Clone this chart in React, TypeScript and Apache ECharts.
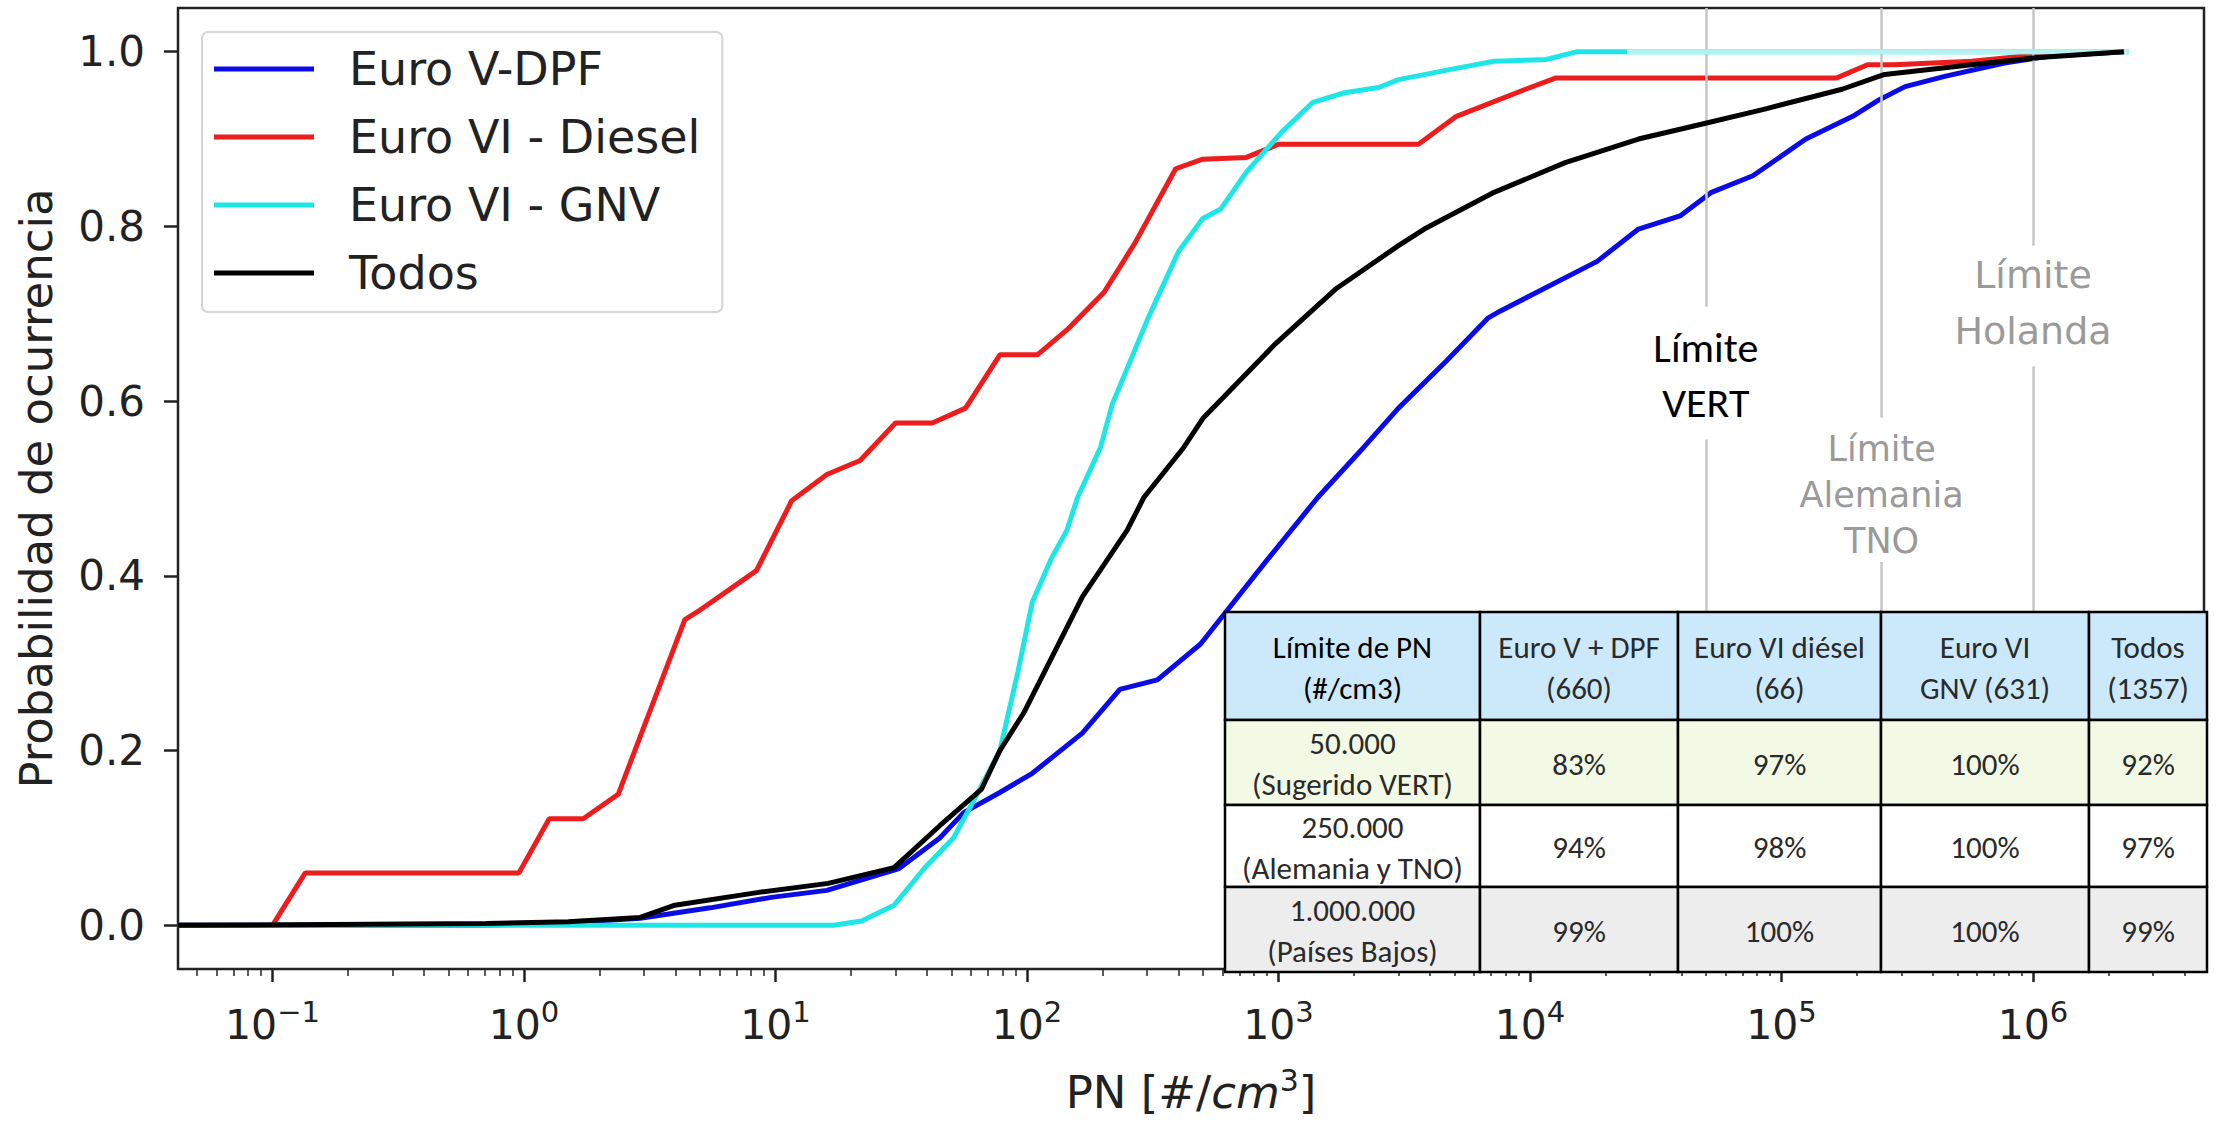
import React, { useEffect, useRef } from 'react';
import * as echarts from 'echarts';

// ---------------- data ----------------
const seriesNames = ['Euro V-DPF', 'Euro VI - Diesel', 'Euro VI - GNV', 'Todos'];
const seriesColors = ['#0b0be8', '#ee1d1d', '#1fe6e6', '#000000'];
const gnvFadedColor = '#b4f2f2';

// [PN (#/cm3), probability]
const euroVDpf: [number, number][] = [
  [0.042, 0], [0.7, 0], [1.5, 0.003], [2.9, 0.008], [5.5, 0.02], [9.6, 0.032], [16, 0.04],
  [31, 0.065], [45, 0.1], [56, 0.129], [78, 0.152], [105, 0.174], [166, 0.22], [234, 0.27],
  [330, 0.281], [490, 0.322], [900, 0.418], [1435, 0.49], [2180, 0.547], [3000, 0.592],
  [4650, 0.646], [6800, 0.695], [7600, 0.703], [18500, 0.76], [27000, 0.797], [39500, 0.812],
  [52700, 0.839], [77000, 0.858], [125000, 0.9], [192000, 0.926], [245000, 0.945],
  [310000, 0.96], [450000, 0.972], [770000, 0.987], [1170000, 0.995], [2300000, 1.0],
];

const euroVIDiesel: [number, number][] = [
  [0.042, 0], [0.1, 0], [0.135, 0.06], [0.955, 0.06], [1.26, 0.122], [1.72, 0.122],
  [2.37, 0.15], [4.36, 0.35], [4.9, 0.359], [8.4, 0.406], [11.6, 0.486], [16, 0.516],
  [21.7, 0.532], [30, 0.575], [42, 0.575], [57, 0.592], [78, 0.653], [110, 0.653],
  [146, 0.683], [203, 0.725], [270, 0.782], [390, 0.866], [500, 0.877], [745, 0.879],
  [1000, 0.894], [3600, 0.894], [5100, 0.926], [9600, 0.957], [12700, 0.97], [166000, 0.97],
  [220000, 0.985], [280000, 0.985], [570000, 0.989], [1000000, 0.996], [2300000, 1.0],
];

const euroVIGnv: [number, number][] = [
  [0.042, 0], [17, 0], [22, 0.005], [29.6, 0.023], [39, 0.065], [51, 0.1], [62, 0.145],
  [78, 0.2], [92, 0.29], [105, 0.37], [125, 0.42], [144, 0.452], [159, 0.49], [196, 0.547],
  [218, 0.596], [303, 0.695], [400, 0.771], [500, 0.809], [590, 0.82], [745, 0.862],
  [1030, 0.908], [1370, 0.942], [1830, 0.953], [2500, 0.959], [3000, 0.968], [4900, 0.98],
  [7200, 0.989], [11600, 0.991], [15400, 1.0], [2400000, 1.0],
];
// the GNV plateau at 1.0 is drawn in a lighter cyan in the source picture
const euroVIGnvFadedPlateau: [number, number][] = [[24300, 1.0], [2400000, 1.0]];

const todos: [number, number][] = [
  [0.042, 0], [0.71, 0.002], [1.5, 0.004], [2.9, 0.009], [3.98, 0.023], [8.7, 0.038],
  [16.2, 0.048], [29.6, 0.066], [45, 0.114], [66, 0.156], [78, 0.2], [97, 0.243],
  [166, 0.376], [250, 0.452], [292, 0.49], [420, 0.547], [500, 0.58], [960, 0.664],
  [1700, 0.729], [3000, 0.778], [3800, 0.797], [7200, 0.839], [13800, 0.873], [27000, 0.9],
  [48000, 0.917], [85000, 0.934], [174000, 0.957], [257000, 0.974], [570000, 0.985],
  [1020000, 0.993], [2300000, 1.0],
];

const seriesData = [euroVDpf, euroVIDiesel, euroVIGnv, todos];

const xTickExponents = [-1, 0, 1, 2, 3, 4, 5, 6];
const yTicks = [0, 0.2, 0.4, 0.6, 0.8, 1.0];

const limitValues = [5e4, 2.5e5, 1e6];
const limitLabels = ['Límite\nVERT', 'Límite\nAlemania\nTNO', 'Límite\nHolanda'];
const limitLabelY = [0.63, 0.493, 0.712];
const limitGaps: [number, number][] = [[0.556, 0.708], [0.416, 0.581], [0.64, 0.778]];

const tableHeader = ['Límite de PN\n(#/cm3)', 'Euro V + DPF\n(660)', 'Euro VI diésel\n(66)', 'Euro VI\nGNV (631)', 'Todos\n(1357)'];
const tableRows = [
  ['50.000\n(Sugerido VERT)', '83%', '97%', '100%', '92%'],
  ['250.000\n(Alemania y TNO)', '94%', '98%', '100%', '97%'],
  ['1.000.000\n(Países Bajos)', '99%', '100%', '100%', '99%'],
];

// ---------------- layout ----------------
const X_MIN = -1.3757;
const X_MAX = 6.68;
const Y_MIN = -0.05;
const Y_MAX = 1.05;
const MPL = "'DejaVu Sans', sans-serif";
const CAL = "Carlito, Lato, 'Open Sans', sans-serif";

const minorTicks: number[] = [];
for (let n = -2; n <= 6; n++) {
  for (let k = 2; k <= 9; k++) {
    const v = Math.log10(k * Math.pow(10, n));
    if (v > X_MIN && v < X_MAX) minorTicks.push(v);
  }
}

const colX = [1225, 1480, 1678, 1881, 2089, 2207];
const rowY = [612, 720, 805, 887, 972];
const rowColors = ['#cbe9fb', '#f2f9e4', '#ffffff', '#ededed'];

function buildTable() {
  const els: any[] = [];
  const rows = [tableHeader, ...tableRows];
  rows.forEach((row, r) => {
    row.forEach((txt, c) => {
      const x = colX[c];
      const y = rowY[r];
      const w = colX[c + 1] - x;
      const h = rowY[r + 1] - y;
      els.push({
        type: 'rect',
        z: 100,
        shape: { x, y, width: w, height: h },
        style: { fill: rowColors[r], stroke: '#000', lineWidth: 2.5 },
      });
      const strong = r === 0 && c === 0;
      els.push({
        type: 'text',
        z: 101,
        style: {
          text: txt,
          x: x + w / 2,
          y: y + h / 2 + 1,
          align: 'center',
          verticalAlign: 'middle',
          textAlign: 'center',
          textVerticalAlign: 'middle',
          fontSize: 31,
          lineHeight: 41,
          fontFamily: CAL,
          fontWeight: 'normal',
          fill: strong ? '#000' : '#2a2a2a',
        },
      });
    });
  });
  return els;
}

const toXY = (arr: [number, number][]) => arr.map(([pn, p]) => [Math.log10(pn), p]);

export default function App() {
  const ref = useRef<HTMLDivElement>(null);

  useEffect(() => {
    document.body.style.margin = '0';
    if (!ref.current) return;
    const chart = echarts.init(ref.current, null, { renderer: 'svg' });

    const lineSeries: any[] = seriesNames.map((name, i) => ({
      name,
      type: 'line',
      xAxisIndex: 0,
      yAxisIndex: 0,
      data: toXY(seriesData[i]),
      showSymbol: false,
      symbol: 'none',
      z: 3 + i,
      lineStyle: { color: seriesColors[i], width: 5 },
      itemStyle: { color: seriesColors[i] },
    }));

    const fadedSeries = {
      name: 'Euro VI - GNV (meseta)',
      type: 'line',
      xAxisIndex: 0,
      yAxisIndex: 0,
      data: toXY(euroVIGnvFadedPlateau),
      showSymbol: false,
      symbol: 'none',
      silent: true,
      z: 5.5,
      lineStyle: { color: gnvFadedColor, width: 5 },
      itemStyle: { color: gnvFadedColor },
    };

    const markLineData: any[] = [];
    limitValues.forEach((v, i) => {
      const x = Math.log10(v);
      markLineData.push([{ coord: [x, Y_MAX] }, { coord: [x, limitGaps[i][1]] }]);
      markLineData.push([{ coord: [x, limitGaps[i][0]] }, { coord: [x, Y_MIN] }]);
    });

    const labelStyles = [
      { color: '#000', fontSize: 42, lineHeight: 55, fontFamily: CAL },
      { color: '#9a9a9a', fontSize: 35, lineHeight: 46, fontFamily: MPL },
      { color: '#9a9a9a', fontSize: 38, lineHeight: 56, fontFamily: MPL },
    ];

    const limitSeries = {
      name: 'limites',
      type: 'line',
      xAxisIndex: 0,
      yAxisIndex: 0,
      data: [],
      z: 10,
      silent: true,
      markLine: {
        silent: true,
        symbol: ['none', 'none'],
        label: { show: false },
        lineStyle: { color: '#c6c6c6', width: 2.5, type: 'solid' },
        data: markLineData,
      },
      markPoint: {
        silent: true,
        symbol: 'circle',
        symbolSize: 0,
        itemStyle: { color: 'transparent' },
        data: limitValues.map((v, i) => ({
          coord: [Math.log10(v), limitLabelY[i]],
          value: 0,
          label: {
            show: true,
            position: 'inside',
            formatter: limitLabels[i],
            align: 'center',
            verticalAlign: 'middle',
            ...labelStyles[i],
          },
        })),
      },
    };

    const option: any = {
      animation: false,
      backgroundColor: '#ffffff',
      grid: {
        left: 178,
        top: 8,
        width: 2026,
        height: 966,
        show: true,
        borderColor: '#222',
        borderWidth: 2.5,
        backgroundColor: 'transparent',
        containLabel: false,
      },
      legend: {
        data: seriesNames,
        orient: 'vertical',
        left: 202,
        top: 32,
        icon: 'rect',
        itemWidth: 100,
        itemHeight: 5,
        itemGap: 18,
        selectedMode: false,
        padding: [12, 22, 14, 12],
        borderColor: '#d4d4d4',
        borderWidth: 2,
        borderRadius: 6,
        backgroundColor: 'rgba(255,255,255,0.85)',
        textStyle: {
          fontSize: 46,
          lineHeight: 50,
          color: '#222',
          fontFamily: MPL,
          padding: [0, 0, 0, 30],
        },
      },
      xAxis: [
        {
          type: 'value',
          min: X_MIN,
          max: X_MAX,
          position: 'bottom',
          axisLine: { show: false, onZero: false },
          splitLine: { show: false },
          axisTick: {
            show: true,
            customValues: xTickExponents,
            length: 13,
            lineStyle: { color: '#222', width: 2.5 },
          },
          axisLabel: {
            show: true,
            customValues: xTickExponents,
            margin: 28,
            formatter: (v: number) => `{b|10}{s|${v < 0 ? '\u2212' : ''}${Math.abs(Math.round(v))}}`,
            rich: {
              b: { fontSize: 41, lineHeight: 48, fontFamily: MPL, color: '#222', verticalAlign: 'bottom' },
              s: { fontSize: 29, lineHeight: 29, fontFamily: MPL, color: '#222', verticalAlign: 'top' },
            },
          },
          name: 'PN [#/{i|cm}{s|3}]',
          nameLocation: 'middle',
          nameGap: 96,
          nameTextStyle: {
            fontSize: 45,
            lineHeight: 54,
            fontFamily: MPL,
            color: '#222',
            rich: {
              i: { fontSize: 45, lineHeight: 54, fontFamily: MPL, fontStyle: 'italic', color: '#222' },
              s: { fontSize: 30, lineHeight: 30, fontFamily: MPL, color: '#222', verticalAlign: 'top' },
            },
          },
        },
        {
          type: 'value',
          min: X_MIN,
          max: X_MAX,
          position: 'bottom',
          axisLine: { show: false, onZero: false },
          splitLine: { show: false },
          axisLabel: { show: false },
          axisTick: {
            show: true,
            customValues: minorTicks,
            length: 7,
            lineStyle: { color: '#222', width: 1.5 },
          },
        },
      ],
      yAxis: {
        type: 'value',
        min: Y_MIN,
        max: Y_MAX,
        axisLine: { show: false, onZero: false },
        splitLine: { show: false },
        axisTick: {
          show: true,
          customValues: yTicks,
          length: 14,
          lineStyle: { color: '#222', width: 2.5 },
        },
        axisLabel: {
          show: true,
          customValues: yTicks,
          formatter: (v: number) => v.toFixed(1),
          fontSize: 42,
          fontFamily: MPL,
          color: '#222',
          margin: 33,
        },
        name: 'Probabilidad de ocurrencia',
        nameLocation: 'middle',
        nameRotate: 90,
        nameGap: 119,
        nameTextStyle: { fontSize: 45, fontFamily: MPL, color: '#222' },
      },
      series: [limitSeries, ...lineSeries, fadedSeries],
      graphic: { elements: buildTable() },
    };

    chart.setOption(option);
    return () => chart.dispose();
  }, []);

  return <div ref={ref} style={{ width: 2216, height: 1124 }} />;
}
